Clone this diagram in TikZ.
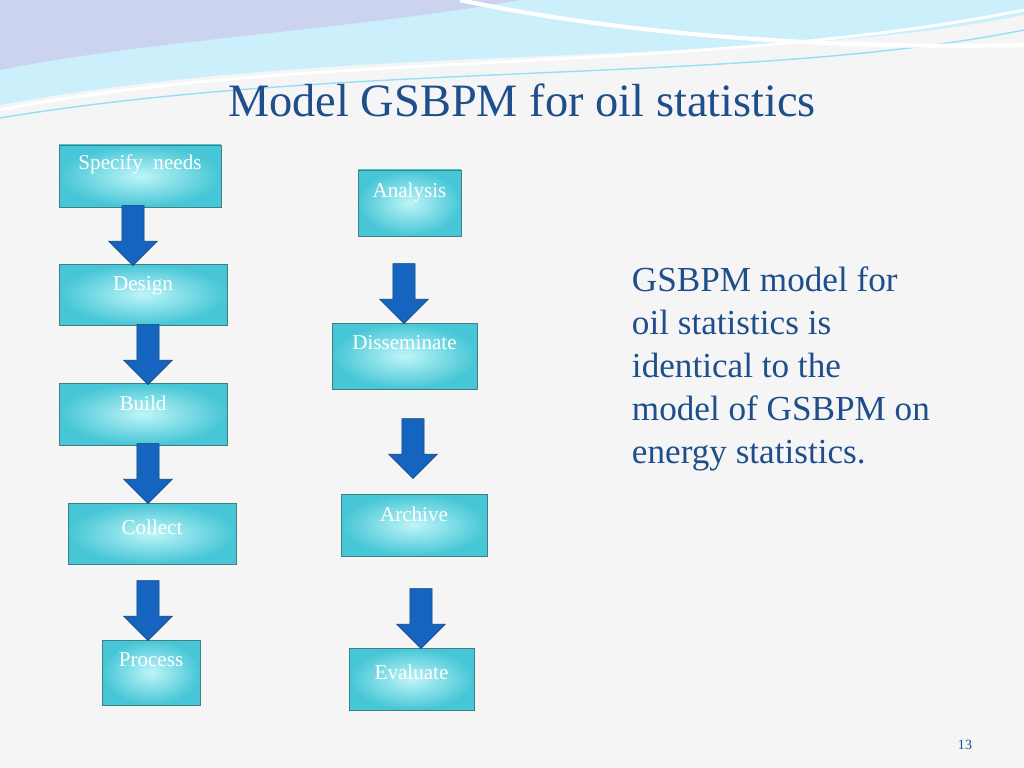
\documentclass[tikz,border=0pt]{standalone}
\usepackage{fontspec}
\setmainfont{Liberation Serif}
\usetikzlibrary{positioning,fit,shapes.arrows}
\definecolor{titleblue}{RGB}{31,78,140}
\definecolor{arrowblue}{RGB}{21,101,192}
\definecolor{bgray}{RGB}{245,245,245}
\definecolor{boxin}{RGB}{190,245,248}
\definecolor{boxout}{RGB}{70,198,214}
\tikzset{
  stage/.style={draw=teal!50!gray, inner sep=0pt, shading=radial, inner color=boxin, outer color=boxout},
  stagetext/.style={text=white, font=\fontsize{15}{18}\selectfont, inner sep=5pt, anchor=north, yshift=-4pt},
  downarrow/.style={single arrow, draw=arrowblue!60!black, fill=arrowblue, rotate=-90,
    minimum height=1.5cm, minimum width=1.2cm, inner sep=0.27cm, single arrow head extend=0.33cm}
}
\begin{document}
\begin{tikzpicture}[x=0.025cm, y=-0.025cm]
  \fill[bgray] (0,0) rectangle (1024,768);
  \useasboundingbox (0,0) rectangle (1024,768);

  % top waves
  \fill[cyan!20] (0,0) -- (1024,0) -- (1024,15) .. controls (750,70) and (350,40) .. (0,105) -- cycle;
  \fill[cyan!40!blue!20] (0,0) -- (520,0) .. controls (350,30) and (150,40) .. (0,70) -- cycle;
  \draw[white, line width=2pt] (0,110) .. controls (300,50) and (700,75) .. (1024,10);
  \draw[cyan!40, line width=1pt] (0,118) .. controls (350,60) and (750,85) .. (1024,30);
  \draw[white, line width=3pt] (460,0) .. controls (600,30) and (800,50) .. (1024,45);

  % title and text
  \node[text=titleblue, font=\fontsize{33}{40}\selectfont] (title) at (522,100) {Model GSBPM for oil statistics};
  \node[text=titleblue, font=\fontsize{25}{30.5}\selectfont, align=left, anchor=north west] (note) at (627,262)
    {GSBPM model for\\oil statistics is\\identical to the\\model of GSBPM on\\energy statistics.};
  \node[text=titleblue, font=\fontsize{10}{12}\selectfont] (page) at (965,745) {13};

  % stages
  \node[stage, fit={(59,145) (221,207)}, label={[stagetext,yshift=2pt]north:Specify\ \ needs}] (specify) {};
  \node[stage, fit={(59,264) (227,325)}, label={[stagetext]north:Design}] (design) {};
  \node[stage, fit={(59,383) (227,445)}, label={[stagetext]north:Build}] (build) {};
  \node[stage, fit={(68,503) (236,564)}, label={[stagetext,yshift=-3pt]north:Collect}] (collect) {};
  \node[stage, fit={(102,640) (200,705)}, label={[stagetext]north:Process}] (process) {};
  \node[stage, fit={(358,170) (461,236)}, label={[stagetext]north:Analysis}] (analysis) {};
  \node[stage, fit={(332,323) (477,389)}, label={[stagetext]north:Disseminate}] (disseminate) {};
  \node[stage, fit={(341,494) (487,556)}, label={[stagetext]north:Archive}] (archive) {};
  \node[stage, fit={(349,648) (474,710)}, label={[stagetext,yshift=-3pt]north:Evaluate}] (evaluate) {};

  % block arrows
  \node[downarrow] (a1) at (133,230) {};
  \node[downarrow] (a2) at (148,349) {};
  \node[downarrow] (a3) at (148,468) {};
  \node[downarrow] (a4) at (148,605) {};
  \node[downarrow] (a5) at (404,288) {};
  \node[downarrow] (a6) at (413,443) {};
  \node[downarrow] (a7) at (421,613) {};
\end{tikzpicture}
\end{document}
